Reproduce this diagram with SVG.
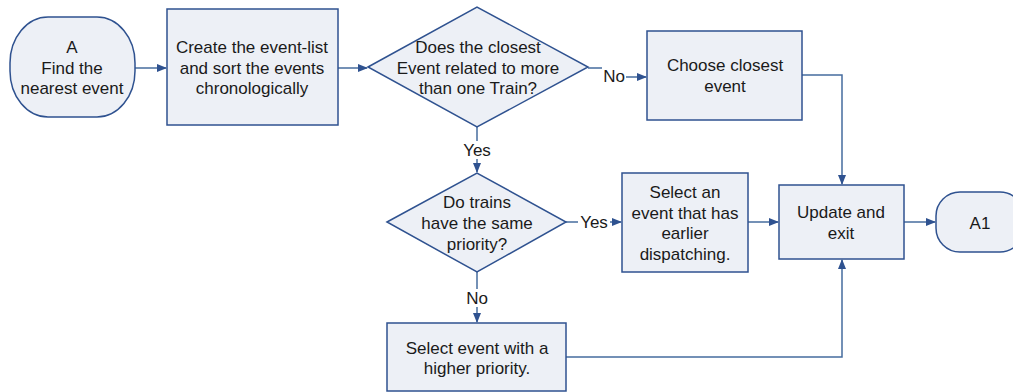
<svg xmlns="http://www.w3.org/2000/svg" width="1013" height="392" viewBox="0 0 1013 392">
<style>
.s{fill:#EDF0F6;stroke:#2F5290;stroke-width:1.5}
.c{fill:none;stroke:#466C9E;stroke-width:1.5}
text{font-family:"Liberation Sans",Arial,sans-serif;font-size:17px;fill:#1a1a1a;text-anchor:middle}
.lb{fill:#ffffff;stroke:none}
</style>
<defs>
<marker id="ah" markerWidth="10" markerHeight="8" refX="9" refY="4" orient="auto" markerUnits="userSpaceOnUse">
<path d="M0,0 L10,4 L0,8 Z" fill="#2F5290"/>
</marker>
</defs>
<rect width="1013" height="392" fill="#ffffff"/>
<g id="connectors">
<path class="c" d="M135,68 H166" marker-end="url(#ah)"/>
<path class="c" d="M338,68 H367" marker-end="url(#ah)"/>
<path class="c" d="M588,68 H614 V77 H646" marker-end="url(#ah)"/>
<path class="c" d="M802,75 H842 V184" marker-end="url(#ah)"/>
<path class="c" d="M477,127 V172" marker-end="url(#ah)"/>
<path class="c" d="M566,222 H594 V222 H621" marker-end="url(#ah)"/>
<path class="c" d="M748,222 H778" marker-end="url(#ah)"/>
<path class="c" d="M904,222 H935" marker-end="url(#ah)"/>
<path class="c" d="M477,272 V322" marker-end="url(#ah)"/>
<path class="c" d="M566,357 H842 V260" marker-end="url(#ah)"/>
<rect class="lb" x="602" y="66" width="24" height="20"/>
<text x="614" y="82">No</text>
<rect class="lb" x="461" y="141" width="32" height="18"/>
<text x="477" y="156">Yes</text>
<rect class="lb" x="578" y="213" width="32" height="18"/>
<text x="594" y="228">Yes</text>
<rect class="lb" x="465" y="289" width="24" height="18"/>
<text x="477" y="304">No</text>
</g>
<g id="nodeA">
<rect class="s" x="10" y="17" width="125" height="100" rx="38" ry="46"/>
<text x="72" y="53">A</text>
<text x="72" y="74">Find the</text>
<text x="72" y="94">nearest event</text>
</g>
<g id="create">
<rect class="s" x="167" y="9" width="171" height="116"/>
<text x="252" y="53">Create the event-list</text>
<text x="252" y="74">and sort the events</text>
<text x="252" y="94">chronologically</text>
</g>
<g id="decision1">
<polygon class="s" points="368,67 477,7 588,67 477,127"/>
<text x="478" y="53">Does the closest</text>
<text x="478" y="74">Event related to more</text>
<text x="478" y="94">than one Train?</text>
</g>
<g id="choose">
<rect class="s" x="647" y="31" width="155" height="89"/>
<text x="725" y="71">Choose closest</text>
<text x="725" y="92">event</text>
</g>
<g id="decision2">
<polygon class="s" points="387,222 477,173 566,222 477,272"/>
<text x="477" y="208">Do trains</text>
<text x="477" y="229">have the same</text>
<text x="477" y="250">priority?</text>
</g>
<g id="earlier">
<rect class="s" x="622" y="173" width="126" height="99"/>
<text x="685" y="198">Select an</text>
<text x="685" y="219">event that has</text>
<text x="685" y="239">earlier</text>
<text x="685" y="260">dispatching.</text>
</g>
<g id="update">
<rect class="s" x="779" y="185" width="125" height="74"/>
<text x="841" y="218">Update and</text>
<text x="841" y="239">exit</text>
</g>
<g id="A1">
<rect class="s" x="936" y="192" width="88" height="60" rx="24" ry="24"/>
<text x="980" y="229">A1</text>
</g>
<g id="higher">
<rect class="s" x="387" y="323" width="179" height="68"/>
<text x="477" y="354">Select event with a</text>
<text x="477" y="374">higher priority.</text>
</g>
</svg>
